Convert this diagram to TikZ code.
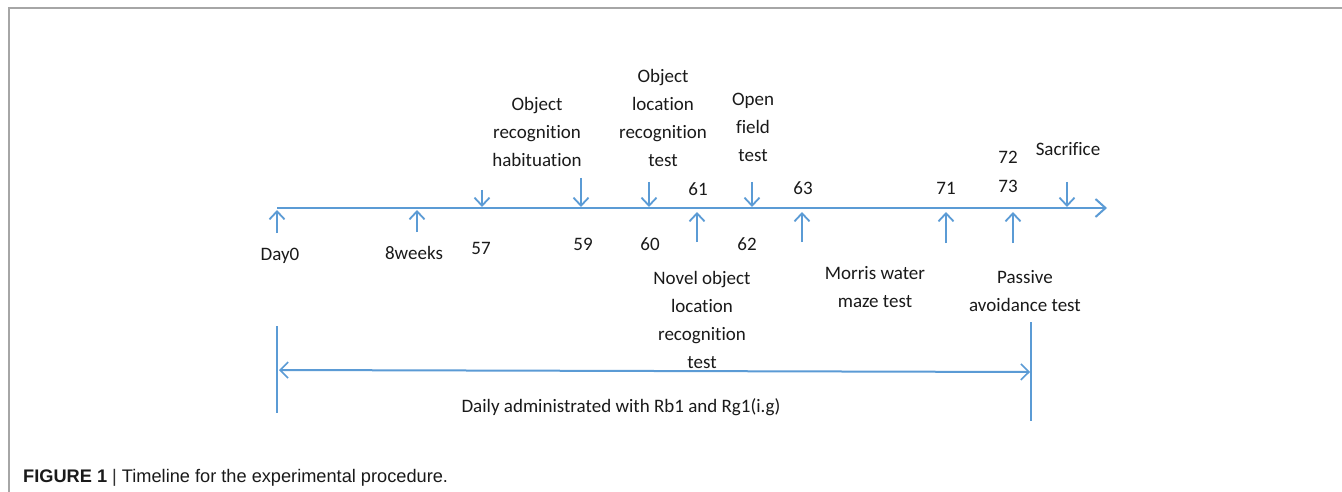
\documentclass[tikz,border=0pt]{standalone}
\usepackage{fontspec}
\setmainfont[Ligatures=CommonOff]{Carlito}
\newfontfamily\capfont{Liberation Sans}
\usetikzlibrary{arrows.meta}
\definecolor{lineblue}{HTML}{5B9BD5}
\definecolor{txt}{HTML}{1A1A1A}
\definecolor{frame}{HTML}{A6A6A6}
\tikzset{
  lbl/.style={inner sep=0pt, text=txt, font=\fontsize{19}{28}\selectfont, align=center},
  marker/.style={draw=lineblue, line width=1.8pt, -{Straight Barb[length=8pt,width=15pt,line width=1.8pt]}},
  axis/.style={draw=lineblue, line width=2pt, -{Straight Barb[length=10pt,width=18pt,line width=2pt]}},
  span/.style={draw=lineblue, line width=2pt, {Straight Barb[length=8pt,width=16pt,line width=1.6pt]}-{Straight Barb[length=8pt,width=16pt,line width=1.6pt]}},
  bound/.style={draw=lineblue, line width=1.8pt},
}
\begin{document}
\begin{tikzpicture}[x=1pt,y=-1pt]
\useasboundingbox (0,0) rectangle (1342,492);
\fill[white] (0,0) rectangle (1342,492);
% frame
\draw[frame, line width=1.5pt] (1342,8) -- (9,8) -- (9,492);

% main timeline
\coordinate (t0) at (277,208);
\coordinate (t1) at (1107,208);
\draw[axis] (t0) -- (t1);

% upward markers below the line
\coordinate (a0b) at (277,233); \coordinate (a0t) at (277,210);
\coordinate (a8b) at (417,232); \coordinate (a8t) at (417,210);
\coordinate (a61b) at (697,242); \coordinate (a61t) at (697,212);
\coordinate (a63b) at (802,242); \coordinate (a63t) at (802,212);
\coordinate (a71b) at (946,243); \coordinate (a71t) at (946,212);
\coordinate (a73b) at (1013,243); \coordinate (a73t) at (1013,212);
\foreach \m in {a0,a8,a61,a63,a71,a73} \draw[marker] (\m b) -- (\m t);

% downward markers above the line
\coordinate (d57t) at (482,190); \coordinate (d57b) at (482,207);
\coordinate (d59t) at (581,178); \coordinate (d59b) at (581,207);
\coordinate (d60t) at (649,182); \coordinate (d60b) at (649,207);
\coordinate (d62t) at (752,182); \coordinate (d62b) at (752,207);
\coordinate (dsct) at (1067,182); \coordinate (dscb) at (1067,207);
\foreach \m in {d57,d59,d60,d62,dsc} \draw[marker] (\m t) -- (\m b);

% day labels
\node[lbl] (day0) at (280,256) {Day0};
\node[lbl] (wk8) at (414,253) {8weeks};
\node[lbl] (n57) at (481,248) {57};
\node[lbl] (n59) at (583,244) {59};
\node[lbl] (n60) at (650,244) {60};
\node[lbl] (n61) at (698,189) {61};
\node[lbl] (n62) at (747,244) {62};
\node[lbl] (n63) at (803,188) {63};
\node[lbl] (n71) at (946,188) {71};
\node[lbl] (n72) at (1008,157) {72};
\node[lbl] (n73) at (1008,186) {73};

% procedure labels
\node[lbl] (orh) at (537,131.5) {Object\\recognition\\habituation};
\node[lbl] (olr) at (663,118) {Object\\location\\recognition\\test};
\node[lbl] (oft) at (753,127) {Open\\field\\test};
\node[lbl] (sac) at (1068,149) {Sacrifice};
\node[lbl] (nol) at (702,319.5) {Novel object\\location\\recognition\\test};
\node[lbl] (mwm) at (875,287) {Morris water\\maze test};
\node[lbl] (pat) at (1025,291) {Passive\\avoidance test};

% administration period
\coordinate (pl0) at (277,326); \coordinate (pl1) at (277,413);
\coordinate (pr0) at (1031,322); \coordinate (pr1) at (1031,421);
\draw[bound] (pl0) -- (pl1);
\draw[bound] (pr0) -- (pr1);
\coordinate (s0) at (279,370); \coordinate (s1) at (1030,372);
\draw[span] (s0) -- (s1);
\node[lbl] (daily) at (621,407) {Daily administrated with Rb1 and Rg1(i.g)};

% caption
\node[anchor=west, inner sep=0pt, font=\capfont\fontsize{18.2}{20}\selectfont, text=txt] (cap) at (23,478)
  {\textbf{FIGURE 1} \textcolor{txt!90}{|} Timeline for the experimental procedure.};
\end{tikzpicture}
\end{document}
